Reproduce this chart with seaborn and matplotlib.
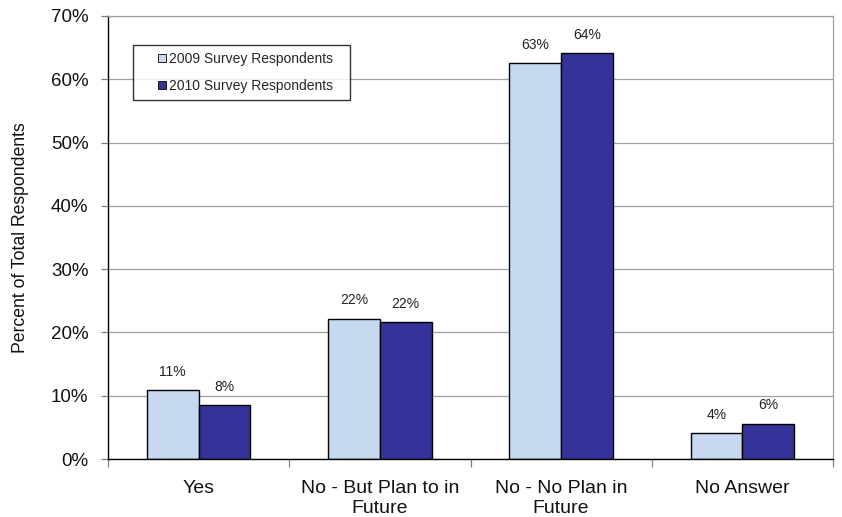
import matplotlib
matplotlib.use("Agg")
import matplotlib.pyplot as plt
import seaborn as sns
import pandas as pd
from matplotlib.lines import Line2D
from matplotlib.ticker import FuncFormatter, MultipleLocator

categories = ["Yes", "No - But Plan to in\nFuture", "No - No Plan in\nFuture", "No Answer"]
series = ["2009 Survey Respondents", "2010 Survey Respondents"]
values_2009 = [10.9, 22.2, 62.6, 4.1]
values_2010 = [8.5, 21.7, 64.1, 5.6]
labels_2009 = ["11%", "22%", "63%", "4%"]
labels_2010 = ["8%", "22%", "64%", "6%"]
colors = ["#C6D9F0", "#333399"]

df = pd.DataFrame({
    "category": categories * 2,
    "series": [series[0]] * 4 + [series[1]] * 4,
    "value": values_2009 + values_2010,
})

sns.set_theme(style="white")
plt.rcParams['font.family'] = ['Liberation Sans', 'DejaVu Sans']

fig = plt.figure(figsize=(8.42, 5.17), dpi=100)
ax = fig.add_axes([108/842, 1 - 459/517, (833-108)/842, (459-16)/517])

sns.barplot(data=df, x="category", y="value", hue="series", palette=colors,
            order=categories, hue_order=series, width=0.57, gap=0,
            saturation=1, edgecolor="black", linewidth=1.0, ax=ax, legend=False)

ax.set_ylim(0, 70)
ax.set_xlim(-0.5, len(categories) - 0.5)
ax.yaxis.set_major_locator(MultipleLocator(10))
ax.yaxis.set_major_formatter(FuncFormatter(lambda v, p: f"{int(round(v))}%"))
ax.grid(axis="y", color="#A0A0A0", linewidth=0.9)
ax.set_axisbelow(True)

for cont, labs in zip(ax.containers, [labels_2009, labels_2010]):
    ax.bar_label(cont, labels=labs, padding=8, fontsize=10, color="#222222")

for side in ["top", "right"]:
    ax.spines[side].set_color("#A0A0A0")
    ax.spines[side].set_linewidth(0.9)
for side in ["left", "bottom"]:
    ax.spines[side].set_color("black")
    ax.spines[side].set_linewidth(1.0)

ax.set_xlabel("")
ax.set_ylabel("Percent of Total Respondents", fontsize=12.7, labelpad=16, color="#111111")
ax.tick_params(axis="y", which="major", left=True, length=5, width=0.9,
               color="#808080", labelsize=13.5, pad=9, labelcolor="#111111")
ax.set_xticks(range(len(categories)))
ax.set_xticklabels(categories, fontsize=14, color="#111111", linespacing=1.22)
ax.tick_params(axis="x", which="major", bottom=False, pad=9)
ax.set_xticks([i + 0.5 for i in range(-1, len(categories))], minor=True)
ax.tick_params(axis="x", which="minor", bottom=True, length=6, width=0.9, color="#808080")

handles = [Line2D([], [], linestyle="none", marker="s", markersize=5.5,
                  markerfacecolor=c, markeredgecolor="black", markeredgewidth=0.6)
           for c in colors]
leg = ax.legend(handles, series, loc="upper left",
                bbox_to_anchor=(25/725, 1 - 29/443, (350-133)/725, 0.0), mode="expand",
                fontsize=10, frameon=True, fancybox=False, edgecolor="black",
                handlelength=3.2, handletextpad=-1.1,
                borderpad=0.5, labelspacing=0.95, borderaxespad=0)
leg.get_frame().set_linewidth(1.0)

fig.savefig("out.png", dpi=100)
